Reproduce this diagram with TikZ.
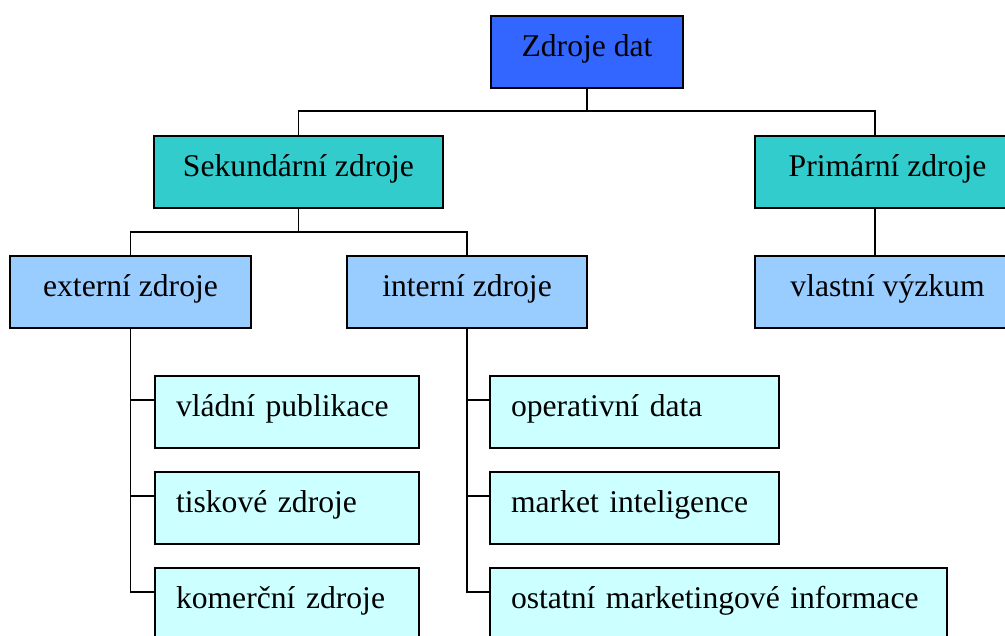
\documentclass[tikz,border=0pt]{standalone}
\usepackage{fontspec}
\setmainfont{Liberation Serif}
\usepackage{tikz}
\usetikzlibrary{positioning}
\definecolor{modra}{HTML}{3366FF}
\definecolor{tyrkys}{HTML}{33CCCC}
\definecolor{svetlemodra}{HTML}{99CCFF}
\definecolor{bledá}{HTML}{CCFFFF}
\tikzset{
  box/.style={draw,line width=0.85pt,inner xsep=0pt,inner ysep=0pt,outer sep=0pt,
    text height=0.8cm,text depth=0.64cm,font=\fontsize{18}{21}\selectfont},
  koren/.style={box,fill=modra,minimum width=#1},
  sekce/.style={box,fill=tyrkys,minimum width=#1},
  skupina/.style={box,fill=svetlemodra,minimum width=#1},
  polozka/.style={box,fill=bledá,inner xsep=0.42cm,text width=#1,align=left},
  spoj/.style={line width=0.85pt}
}

\begin{document}
\begin{tikzpicture}
  \useasboundingbox (0,0) rectangle (20.1,-12.7);
  \clip (0,0) rectangle (20.1,-12.7);

  \node[koren=3.84cm,anchor=north west] (zdroje) at (9.82,-0.32) {Zdroje dat};
  \node[sekce=5.78cm,anchor=north west] (sek) at (3.08,-2.72) {Sekundární zdroje};
  \node[sekce=5.3cm,anchor=north west] (prim) at (15.1,-2.72) {Primární zdroje};
  \node[skupina=4.82cm,anchor=north west] (ext) at (0.2,-5.12) {externí zdroje};
  \node[skupina=4.8cm,anchor=north west] (int) at (6.94,-5.12) {interní zdroje};
  \node[skupina=5.3cm,below=0.96cm of prim] (vl) {vlastní výzkum};

  \node[polozka=4.44cm,anchor=north west] (vlad) at (3.1,-7.52) {vládní publikace};
  \node[polozka=4.44cm,below=0.48cm of vlad] (tisk) {tiskové zdroje};
  \node[polozka=4.44cm,below=0.48cm of tisk] (kom) {komerční zdroje};

  \node[polozka=4.94cm,anchor=north west] (oper) at (9.8,-7.52) {operativní data};
  \node[polozka=4.94cm,below=0.48cm of oper] (market) {market inteligence};
  \node[polozka=8.3cm,below=0.48cm of market.south west,anchor=north west] (ostatni) {ostatní marketingové informace};

  \coordinate[below=0.46cm of zdroje.south] (uzel1);
  \coordinate[below=0.48cm of sek.south] (uzel2);
  \coordinate (primvstup) at ([xshift=2.4cm]prim.north west);

  \draw[spoj] (zdroje.south) -- (uzel1);
  \draw[spoj] (sek.north) |- (uzel1) -| (primvstup);
  \draw[spoj] ([xshift=2.4cm]prim.south west) -- ([xshift=2.4cm]vl.north west);
  \draw[spoj] (sek.south) -- (uzel2);
  \draw[spoj] (ext.north) |- (uzel2) -| (int.north);

  \foreach \n in {vlad,tisk,kom}
    \draw[spoj] ([yshift=0.24cm]\n.west) -| (ext.south);
  \foreach \n in {oper,market,ostatni}
    \draw[spoj] ([yshift=0.24cm]\n.west) -| (int.south);
\end{tikzpicture}
\end{document}
